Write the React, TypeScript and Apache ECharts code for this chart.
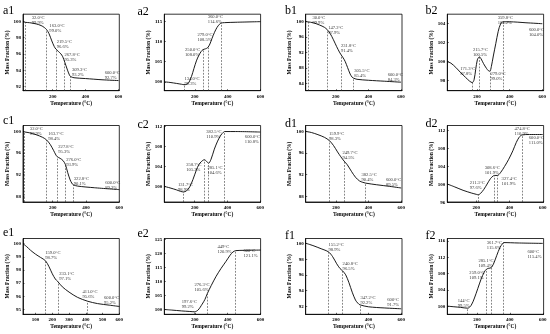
import React, { useEffect, useRef } from 'react';
import * as echarts from 'echarts';

const FONT = 'Liberation Serif';

// ---------- data ----------
const a1Curve = [[20,100],[32,99.9],[60,99.85],[100,99.7],[130,99.5],[150,99.25],[163,99.0],[178,98.5],[195,97.6],[210,96.9],[219.5,96.6],[235,96.3],[250,96.0],[260,95.7],[268,95.3],[280,94.6],[292,93.9],[302,93.4],[309,93.2],[330,93.05],[400,92.95],[500,92.8],[600,92.7]];
const a1Marks = [[32,99.9],[163,99.0],[219.5,96.6],[267.8,95.3],[309.3,93.2]];
const a1Notes = [[73,100.85,'32.0°C','99.9%'],[180,99.8,'163.0°C','99.0%'],[225,97.86,'219.5°C','96.6%'],[272,96.29,'267.8°C','95.3%'],[317,94.43,'309.3°C','93.2%'],[516,94.02,'600.0°C','92.7%']];

const a2Curve = [[15,100],[50,99.85],[90,99.6],[120,99.4],[134,99.3],[150,99.35],[165,99.9],[180,101.3],[195,103.3],[210,105.2],[225,106.6],[240,107.6],[250,108.0],[265,108.2],[279,108.5],[292,109.4],[305,110.8],[320,112.3],[335,113.5],[350,114.3],[360,114.6],[380,114.7],[450,114.8],[600,114.95]];
const a2Marks = [[134,99.3],[250,108.0],[279,108.5],[360,114.6]];
const a2Notes = [[137,101.4,'134.0°C','99.3%'],[141,108.75,'250.0°C','108.0%'],[216,112.5,'279.0°C','108.5%'],[279,116.8,'360.0°C','114.6%']];

const b1Curve = [[15,100],[30,99.9],[60,99.7],[100,99.1],[130,98.5],[147,97.9],[165,96.9],[185,95.3],[205,93.5],[222,92.1],[232,91.4],[245,90.6],[258,89.6],[272,88.1],[288,86.4],[300,85.6],[306,85.4],[330,85.05],[400,84.8],[500,84.55],[600,84.3]];
const b1Marks = [[30,99.9],[147.2,97.9],[231.8,91.4],[305.5,85.4]];
const b1Notes = [[56,101.7,'30.0°C','99.9%'],[153,99.1,'147.2°C','97.9%'],[231,94.4,'231.8°C','91.4%'],[313,87.9,'305.5°C','85.4%'],[518,87.0,'600.0°C','84.3%']];

const b2Curve = [[18,100],[40,99.85],[70,99.4],[100,98.85],[130,98.35],[155,97.95],[171,97.8],[182,98.1],[192,99.2],[202,100.2],[210,100.45],[216,100.5],[225,100.3],[240,99.8],[258,99.3],[270,99.05],[279,99.0],[288,99.5],[300,100.6],[315,101.9],[330,103.2],[345,104.0],[360,104.2],[400,104.2],[500,104.1],[600,104.0]];
const b2Marks = [[171.3,97.8],[215.7,100.5],[279,99.0],[359.8,104.2]];
const b2Notes = [[97,99.5,'171.3°C','97.8%'],[175,101.6,'215.7°C','100.5%'],[282,99.05,'279.0°C','99.0%'],[327,104.95,'359.8°C','104.2%'],[518,103.65,'600.0°C','104.0%']];

const c1Curve = [[22,100],[32,99.9],[60,99.75],[100,99.4],[140,98.9],[164,98.4],[185,97.6],[205,96.5],[220,95.6],[228,95.3],[245,95.0],[262,94.6],[276,93.9],[290,92.4],[305,91.0],[315,90.4],[323,90.1],[350,89.85],[450,89.55],[600,89.2]];
const c1Marks = [[32,99.9],[163.7,98.4],[227.8,95.3],[276,93.9],[322.8,90.1]];
const c1Notes = [[63,101.05,'32.0°C','99.9%'],[174,100,'163.7°C','98.4%'],[234,97.7,'227.8°C','95.3%'],[281,95.2,'276.0°C','93.9%'],[327,91.7,'322.8°C','90.1%'],[515,91.0,'600.0°C','89.2%']];

const c2Curve = [[15,100],[50,99.7],[90,99.3],[115,99.0],[132,98.9],[150,99.1],[170,99.9],[190,101.4],[210,103.2],[225,104.3],[240,104.9],[259,105.3],[272,105.0],[285,104.6],[300,105.4],[320,107.4],[340,109.0],[360,110.2],[375,110.75],[383,110.9],[450,110.9],[600,110.8]];
const c2Marks = [[131.7,98.9],[258.7,105.3],[285.1,104.6],[382.5,110.9]];
const c2Notes = [[98,100.9,'131.7°C','98.9%'],[149,104.9,'258.7°C','105.3%'],[278,104.2,'285.1°C','104.6%'],[271,111.5,'382.5°C','110.9%'],[506,110.5,'600.0°C','110.8%']];

const d1Curve = [[15,100],[50,99.8],[90,99.4],[130,98.9],[160,98.3],[185,97.4],[210,96.2],[230,95.3],[250,94.5],[270,93.8],[295,92.6],[320,91.5],[345,90.8],[365,90.55],[383,90.4],[450,90.1],[530,89.8],[600,89.5]];
const d1Marks = [[159.9,98.3],[249.7,94.5],[382.5,90.4]];
const d1Notes = [[158,100,'159.9°C','98.3%'],[240,96.6,'249.7°C','94.5%'],[357,92.5,'382.5°C','90.4%'],[507,91.6,'600.0°C','89.5%']];

const d2Curve = [[25,100],[70,99.35],[120,98.6],[170,98.0],[200,97.7],[211,97.6],[225,97.9],[245,98.8],[265,100.0],[285,101.2],[300,101.75],[309,101.9],[327,101.9],[345,102.5],[370,103.9],[395,105.5],[420,107.4],[440,109.2],[458,110.4],[475,110.9],[520,111.0],[600,111.0]];
const d2Marks = [[211.3,97.6],[308.6,101.9],[327.4,101.9],[474.8,110.9]];
const d2Notes = [[160,101.0,'211.3°C','97.6%'],[250,104.3,'308.6°C','101.9%'],[352,101.8,'327.4°C','101.9%'],[430,112.9,'474.8°C','110.9%'],[516,110.9,'600.0°C','111.0%']];

const e1Curve = [[25,100],[45,99.8],[70,99.5],[100,99.2],[130,98.95],[159,98.7],[180,98.25],[200,97.7],[218,97.3],[233,97.1],[260,96.7],[300,96.3],[350,95.9],[411,95.6],[470,95.42],[540,95.3],[600,95.2]];
const e1Marks = [[159,98.7],[233.1,97.1],[411,95.6]];
const e1Notes = [[158,99.5,'159.0°C','98.7%'],[241,97.9,'233.1°C','97.1%'],[380,96.5,'411.0°C','95.6%'],[509,96.1,'600.0°C','95.2%']];

const e2Curve = [[15,100],[60,99.8],[120,99.5],[170,99.3],[198,99.2],[220,99.8],[245,101.9],[262,103.6],[276,105.6],[300,108.5],[330,111.8],[360,114.6],[390,117.1],[415,119.3],[432,120.4],[449,120.9],[500,121.0],[600,121.1]];
const e2Marks = [[197.6,99.2],[276.3,105.6],[449,120.9]];
const e2Notes = [[121,103.8,'197.6°C','99.2%'],[198,109.7,'276.3°C','105.6%'],[338,123.3,'449°C','120.9%'],[496,121.9,'600°C','121.1%']];

const f1Curve = [[15,100],[60,99.7],[110,99.3],[155,98.9],[180,98.3],[205,97.4],[225,96.8],[241,96.5],[260,96.0],[280,95.0],[300,93.8],[320,92.8],[335,92.4],[347,92.2],[400,91.95],[500,91.8],[600,91.7]];
const f1Marks = [[155.2,98.9],[240.8,96.5],[347.2,92.2]];
const f1Notes = [[155,100.2,'155.2°C','98.9%'],[241,97.8,'240.8°C','96.5%'],[350,93.5,'347.2°C','92.2%'],[515,93.2,'600°C','91.7%']];

const f2Curve = [[20,100],[60,99.85],[100,99.7],[144,99.5],[165,100.2],[185,102.0],[205,104.3],[225,106.6],[245,108.4],[259,109.1],[272,109.3],[285,109.4],[300,110.3],[320,112.4],[340,114.4],[355,115.3],[362,115.6],[450,115.5],[600,115.4]];
const f2Marks = [[144,99.5],[259,109.1],[285.1,109.4],[361.7,115.6]];
const f2Notes = [[83,102.1,'144°C','99.5%'],[154,108.8,'259.0°C','109.1%'],[209,111.9,'285.1°C','109.4%'],[260,116.2,'361.7°C','115.6%'],[507,114.1,'600°C','115.4%']];

const ticks200 = [200, 400, 600];
const ticks100 = [100, 200, 300, 400, 500, 600];

// ---------- layout ----------
const colLeft = [23, 164.3, 305.7, 447.3];
const rowTop = [14.2, 125.5, 238.5];
const rowH = [76.5, 76.5, 75.8];
const W = 96.3;

const panels = [
  { tag: 'a1', c: 0, r: 0, tp: [3, 4], x: [20, 605], xt: ticks200, y: [91.45, 100.9], yt: [92, 94, 96, 98, 100], curve: a1Curve, marks: a1Marks, notes: a1Notes },
  { tag: 'a2', c: 1, r: 0, tp: [137.5, 4.5], x: [15, 600], xt: ticks200, y: [97.8, 116.8], yt: [100, 105, 110, 115], curve: a2Curve, marks: a2Marks, notes: a2Notes },
  { tag: 'b1', c: 2, r: 0, tp: [285, 3.5], x: [15, 606], xt: ticks200, y: [82.1, 101.9], yt: [84, 88, 92, 96, 100], curve: b1Curve, marks: b1Marks, notes: b1Notes },
  { tag: 'b2', c: 3, r: 0, tp: [425.5, 3.5], x: [18, 608], xt: ticks200, y: [96.95, 105.0], yt: [98, 100, 102, 104], curve: b2Curve, marks: b2Marks, notes: b2Notes },
  { tag: 'c1', c: 0, r: 1, tp: [3, 113.5], x: [22, 600], xt: ticks200, y: [86.9, 101.1], yt: [88, 92, 96, 100], curve: c1Curve, marks: c1Marks, notes: c1Notes },
  { tag: 'c2', c: 1, r: 1, tp: [137.5, 117.5], x: [15, 602], xt: ticks200, y: [96.9, 112.1], yt: [100, 104, 108, 112], curve: c2Curve, marks: c2Marks, notes: c2Notes },
  { tag: 'd1', c: 2, r: 1, tp: [285, 116.5], x: [15, 605], xt: ticks200, y: [86.9, 101.1], yt: [88, 92, 96, 100], curve: d1Curve, marks: d1Marks, notes: d1Notes },
  { tag: 'd2', c: 3, r: 1, tp: [425.5, 116.5], x: [25, 605], xt: ticks200, y: [96, 113], yt: [96, 100, 104, 108, 112], curve: d2Curve, marks: d2Marks, notes: d2Notes },
  { tag: 'e1', c: 0, r: 2, tp: [3, 225.5], x: [25, 600], xt: ticks100, y: [94.6, 100.4], yt: [95, 96, 97, 98, 99, 100], curve: e1Curve, marks: e1Marks, notes: e1Notes },
  { tag: 'e2', c: 1, r: 2, tp: [137.5, 226.5], x: [15, 600], xt: ticks200, y: [98.3, 125.2], yt: [100, 105, 110, 115, 120, 125], curve: e2Curve, marks: e2Marks, notes: e2Notes },
  { tag: 'f1', c: 2, r: 2, tp: [285, 228.5], x: [15, 605], xt: ticks200, y: [91.0, 100.6], yt: [92, 94, 96, 98, 100], curve: f1Curve, marks: f1Marks, notes: f1Notes },
  { tag: 'f2', c: 3, r: 2, tp: [425.5, 228.5], x: [20, 605], xt: ticks200, y: [98.0, 116.6], yt: [100, 104, 108, 112, 116], curve: f2Curve, marks: f2Marks, notes: f2Notes },
];

function buildOption() {
  const labelStyle = { fontFamily: FONT, fontWeight: 'bold' as const, fontSize: 5, color: '#000' };
  const nameStyle = { fontFamily: FONT, fontWeight: 'bold' as const, fontSize: 5.5, color: '#000' };
  const grid = panels.map((p) => ({
    left: colLeft[p.c], top: rowTop[p.r], width: W, height: rowH[p.r],
    show: true, borderColor: '#000', borderWidth: 0.8, backgroundColor: 'transparent',
    containLabel: false, outerBoundsMode: 'none',
  }));
  const xAxis = panels.map((p, i) => ({
    type: 'value', gridIndex: i, min: p.x[0], max: p.x[1],
    name: 'Temperature (°C)', nameLocation: 'middle', nameGap: 9, nameTextStyle: nameStyle,
    axisLine: { show: true, onZero: false, lineStyle: { color: '#000', width: 0.8 } },
    axisTick: { show: true, inside: true, length: 1.5, customValues: p.xt, lineStyle: { color: '#000', width: 0.6 } },
    axisLabel: { ...labelStyle, customValues: p.xt, margin: 3 },
    splitLine: { show: false },
  }));
  const yAxis = panels.map((p, i) => ({
    type: 'value', gridIndex: i, min: p.y[0], max: p.y[1],
    name: 'Mass Fraction (%)', nameLocation: 'middle', nameGap: 12, nameTextStyle: nameStyle,
    axisLine: { show: true, onZero: false, lineStyle: { color: '#000', width: 0.8 } },
    axisTick: { show: true, inside: true, length: 1.5, customValues: p.yt, lineStyle: { color: '#000', width: 0.6 } },
    axisLabel: { ...labelStyle, customValues: p.yt, margin: 2 },
    splitLine: { show: false },
  }));
  const series: any[] = [];
  panels.forEach((p, i) => {
    series.push({
      type: 'line', xAxisIndex: i, yAxisIndex: i, data: p.curve, showSymbol: false, symbol: 'none',
      color: '#000',
      smooth: 0.3, lineStyle: { color: '#000', width: 0.9 }, itemStyle: { color: '#000' }, silent: true, z: 3,
      markLine: {
        silent: true, symbol: ['none', 'none'], label: { show: false },
        lineStyle: { type: [1.8, 1.4], color: '#333', width: 0.6 },
        data: p.marks.map((m) => [{ coord: [m[0], p.y[0]] }, { coord: [m[0], m[1]] }]),
      },
    });
    series.push({
      type: 'scatter', xAxisIndex: i, yAxisIndex: i, symbolSize: 0, clip: false, silent: true,
      color: '#000',
      itemStyle: { color: '#000' },
      data: p.notes.map((n) => ({ value: [n[0], n[1]], t1: n[2], t2: n[3] })),
      label: {
        show: true, position: [0, 0], align: 'left', verticalAlign: 'top',
        formatter: (q: any) => '{n|' + q.data.t1 + '}\n{n|' + q.data.t2 + '}',
        rich: {
          n: { fontFamily: FONT, fontSize: 4.6, lineHeight: 5, color: '#000', textBorderWidth: 0 },
        },
      },
    });
  });
  const graphic = panels.map((p) => ({
    type: 'text', left: p.tp[0], top: p.tp[1], silent: true,
    style: { text: p.tag, fontFamily: FONT, fontSize: 12, fill: '#000' },
  }));
  return { animation: false, color: ['#000'], grid, xAxis, yAxis, series, graphic };
}

export default function App() {
  const ref = useRef<HTMLDivElement>(null);
  useEffect(() => {
    if (!ref.current) return;
    const chart = echarts.init(ref.current, undefined, { renderer: 'svg' });
    chart.setOption(buildOption() as any);
    return () => chart.dispose();
  }, []);
  return (
    <div
      ref={ref}
      style={{ position: 'fixed', left: 0, top: 0, width: 550, height: 334, background: '#fff', filter: 'grayscale(1)' }}
    />
  );
}
